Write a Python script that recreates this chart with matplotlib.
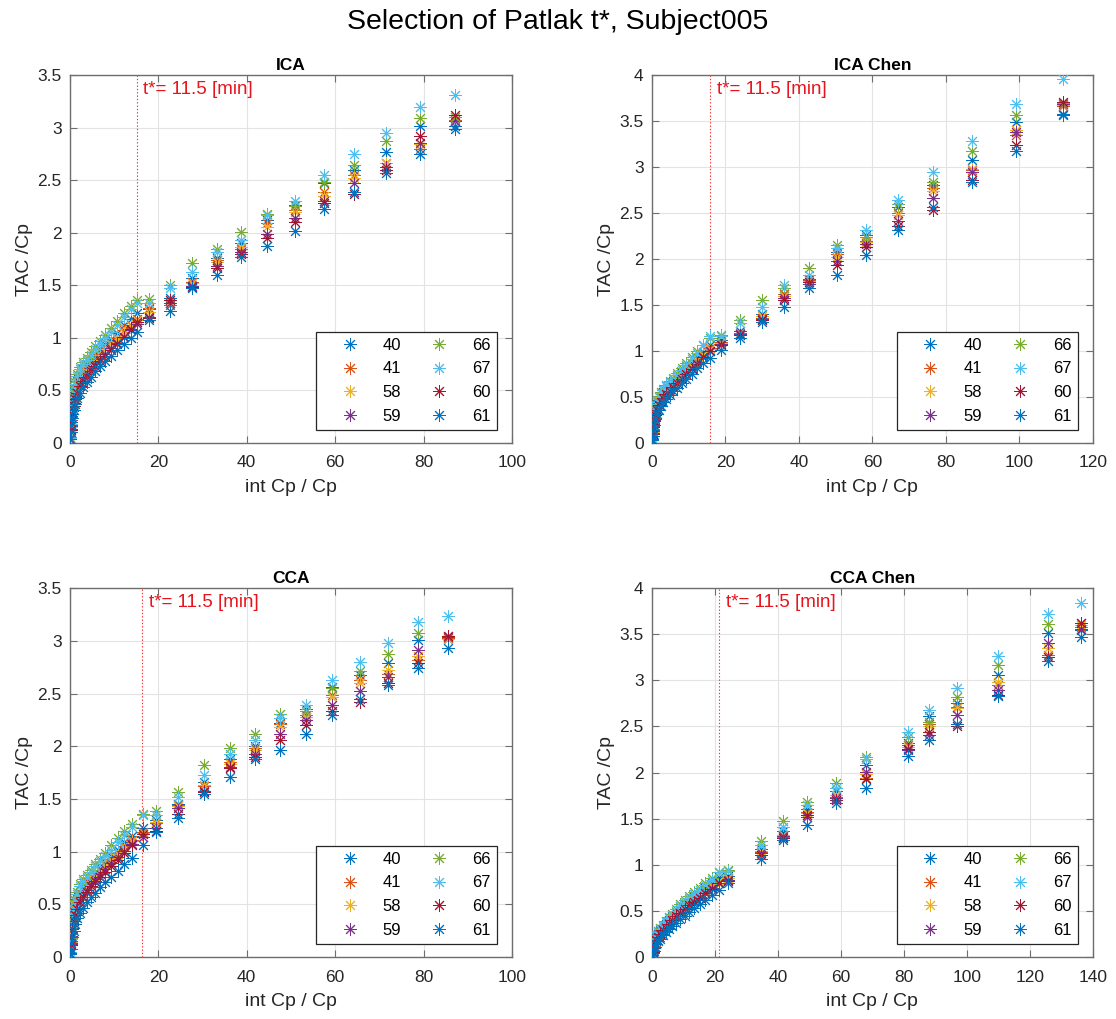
import numpy as np
import matplotlib
matplotlib.use("Agg")
from matplotlib import pyplot as plt

plt.rcParams['font.family'] = ['Liberation Sans', 'DejaVu Sans']

### series labels and MATLAB colour order ###
labels = ['40', '41', '58', '59', '66', '67', '60', '61']
colors = ['#0072BD', '#D95319', '#EDB120', '#7E2F8E', '#77AC30', '#4DBEEE', '#A2142F', '#0072BD']

### ICA ###
ica_x = [0.05, 0.15, 0.3, 0.5, 0.8, 1.2, 1.7, 2.3, 3.0, 3.8, 4.7, 5.7, 6.8, 8.0, 9.3, 10.7,
         12.2, 13.7, 15.1, 17.8, 22.6, 27.7, 33.2, 38.7, 44.6, 51.0, 57.5, 64.3, 71.6, 79.2, 87.1]
ica_y = [
    [0.05, 0.16, 0.26, 0.35, 0.44, 0.52, 0.59, 0.65, 0.70, 0.74, 0.79, 0.84, 0.89, 0.94, 0.99, 1.05,
     1.12, 1.18, 1.24, 1.27, 1.38, 1.57, 1.76, 1.90, 2.12, 2.26, 2.47, 2.60, 2.77, 3.02, 3.02],
    [0.05, 0.15, 0.25, 0.34, 0.42, 0.50, 0.56, 0.62, 0.67, 0.71, 0.76, 0.80, 0.85, 0.90, 0.95, 1.00,
     1.07, 1.12, 1.18, 1.28, 1.31, 1.53, 1.74, 1.85, 2.09, 2.22, 2.39, 2.55, 2.66, 2.80, 3.07],
    [0.05, 0.15, 0.24, 0.33, 0.41, 0.49, 0.55, 0.61, 0.66, 0.70, 0.75, 0.79, 0.84, 0.89, 0.94, 0.99,
     1.05, 1.11, 1.17, 1.25, 1.33, 1.52, 1.72, 1.86, 2.05, 2.20, 2.35, 2.52, 2.66, 2.84, 3.06],
    [0.04, 0.13, 0.22, 0.30, 0.38, 0.45, 0.51, 0.57, 0.62, 0.66, 0.71, 0.75, 0.80, 0.85, 0.90, 0.95,
     1.01, 1.07, 1.13, 1.20, 1.33, 1.49, 1.68, 1.82, 1.99, 2.14, 2.30, 2.47, 2.63, 2.85, 3.06],
    [0.06, 0.20, 0.30, 0.40, 0.50, 0.58, 0.66, 0.72, 0.77, 0.81, 0.87, 0.92, 0.97, 1.03, 1.09, 1.16,
     1.24, 1.30, 1.36, 1.37, 1.50, 1.71, 1.85, 2.01, 2.18, 2.25, 2.48, 2.64, 2.87, 3.09, 3.10],
    [0.05, 0.18, 0.28, 0.38, 0.48, 0.56, 0.64, 0.70, 0.75, 0.79, 0.84, 0.89, 0.94, 1.00, 1.06, 1.12,
     1.20, 1.27, 1.33, 1.33, 1.47, 1.63, 1.82, 1.93, 2.17, 2.30, 2.55, 2.75, 2.95, 3.20, 3.31],
    [0.04, 0.12, 0.20, 0.28, 0.35, 0.42, 0.48, 0.54, 0.59, 0.63, 0.68, 0.73, 0.78, 0.83, 0.88, 0.94,
     1.01, 1.08, 1.15, 1.19, 1.36, 1.48, 1.66, 1.80, 1.95, 2.10, 2.28, 2.37, 2.60, 2.92, 3.12],
    [0.04, 0.10, 0.17, 0.24, 0.31, 0.37, 0.43, 0.48, 0.53, 0.58, 0.63, 0.68, 0.73, 0.78, 0.83, 0.88,
     0.94, 1.00, 1.06, 1.17, 1.26, 1.47, 1.60, 1.77, 1.87, 2.02, 2.23, 2.39, 2.57, 2.75, 2.99],
]
ica_tstar = 15.1

### ICA Chen ###
icachen_x = [0.05, 0.15, 0.3, 0.55, 0.9, 1.3, 1.8, 2.4, 3.1, 3.9, 4.8, 5.8, 6.9, 8.1, 9.4, 10.8,
             12.3, 14.0, 15.8, 18.7, 23.9, 29.9, 36.0, 42.7, 50.4, 58.4, 67.0, 76.6, 87.0, 99.2, 111.9]
icachen_y = [
    [0.04, 0.13, 0.21, 0.29, 0.36, 0.42, 0.47, 0.51, 0.55, 0.59, 0.63, 0.67, 0.71, 0.76, 0.81, 0.87,
     0.93, 0.99, 1.06, 1.12, 1.22, 1.40, 1.62, 1.78, 2.08, 2.26, 2.57, 2.80, 3.08, 3.49, 3.58],
    [0.04, 0.12, 0.20, 0.28, 0.35, 0.41, 0.46, 0.50, 0.54, 0.58, 0.62, 0.66, 0.70, 0.75, 0.80, 0.85,
     0.91, 0.97, 1.03, 1.10, 1.20, 1.36, 1.62, 1.77, 2.06, 2.20, 2.50, 2.77, 2.97, 3.35, 3.66],
    [0.04, 0.12, 0.20, 0.27, 0.34, 0.40, 0.45, 0.49, 0.53, 0.57, 0.61, 0.65, 0.69, 0.74, 0.79, 0.84,
     0.90, 0.96, 1.02, 1.09, 1.19, 1.38, 1.60, 1.76, 2.02, 2.18, 2.48, 2.74, 2.98, 3.40, 3.67],
    [0.04, 0.11, 0.18, 0.25, 0.32, 0.38, 0.43, 0.47, 0.51, 0.55, 0.59, 0.63, 0.67, 0.72, 0.77, 0.82,
     0.88, 0.94, 1.00, 1.08, 1.18, 1.35, 1.58, 1.73, 1.98, 2.16, 2.41, 2.66, 2.95, 3.38, 3.69],
    [0.05, 0.15, 0.24, 0.33, 0.40, 0.46, 0.51, 0.55, 0.59, 0.63, 0.67, 0.71, 0.76, 0.81, 0.87, 0.93,
     1.00, 1.07, 1.14, 1.17, 1.34, 1.55, 1.68, 1.90, 2.15, 2.24, 2.60, 2.84, 3.18, 3.57, 3.70],
    [0.05, 0.14, 0.23, 0.32, 0.39, 0.45, 0.50, 0.54, 0.58, 0.62, 0.66, 0.70, 0.74, 0.79, 0.85, 0.91,
     0.98, 1.06, 1.16, 1.16, 1.30, 1.48, 1.72, 1.83, 2.12, 2.32, 2.64, 2.95, 3.28, 3.69, 3.96],
    [0.03, 0.10, 0.17, 0.24, 0.30, 0.36, 0.41, 0.45, 0.49, 0.53, 0.57, 0.61, 0.65, 0.70, 0.75, 0.80,
     0.86, 0.93, 1.00, 1.06, 1.17, 1.34, 1.55, 1.75, 1.93, 2.13, 2.36, 2.53, 2.86, 3.24, 3.71],
    [0.03, 0.08, 0.14, 0.20, 0.26, 0.31, 0.36, 0.40, 0.44, 0.48, 0.52, 0.56, 0.60, 0.65, 0.70, 0.75,
     0.81, 0.87, 0.92, 1.01, 1.14, 1.32, 1.48, 1.68, 1.83, 2.04, 2.32, 2.57, 2.84, 3.18, 3.57],
]
icachen_tstar = 15.8

### CCA ###
cca_x = [0.05, 0.15, 0.3, 0.5, 0.8, 1.2, 1.7, 2.3, 3.0, 3.8, 4.7, 5.7, 6.8, 8.0, 9.3, 10.8,
         12.3, 14.0, 16.6, 19.5, 24.5, 30.3, 36.2, 41.9, 47.5, 53.4, 59.4, 65.6, 72.0, 78.7, 85.6]
cca_y = [
    [0.04, 0.15, 0.24, 0.33, 0.41, 0.48, 0.55, 0.61, 0.66, 0.70, 0.75, 0.80, 0.85, 0.90, 0.96, 1.02,
     1.09, 1.15, 1.22, 1.30, 1.45, 1.66, 1.88, 2.00, 2.22, 2.35, 2.56, 2.68, 2.79, 3.01, 3.02],
    [0.04, 0.14, 0.23, 0.32, 0.40, 0.47, 0.53, 0.59, 0.64, 0.68, 0.73, 0.78, 0.83, 0.88, 0.93, 0.99,
     1.05, 1.11, 1.19, 1.27, 1.44, 1.62, 1.85, 1.98, 2.21, 2.30, 2.49, 2.63, 2.69, 2.82, 3.03],
    [0.04, 0.14, 0.22, 0.31, 0.39, 0.46, 0.52, 0.58, 0.63, 0.67, 0.72, 0.77, 0.82, 0.87, 0.92, 0.98,
     1.04, 1.10, 1.18, 1.28, 1.43, 1.63, 1.83, 1.96, 2.18, 2.28, 2.47, 2.60, 2.72, 2.86, 3.02],
    [0.04, 0.12, 0.20, 0.28, 0.36, 0.43, 0.49, 0.55, 0.60, 0.64, 0.69, 0.74, 0.79, 0.84, 0.89, 0.95,
     1.01, 1.07, 1.14, 1.22, 1.41, 1.58, 1.80, 1.93, 2.12, 2.25, 2.39, 2.52, 2.66, 2.91, 3.04],
    [0.05, 0.18, 0.28, 0.37, 0.46, 0.54, 0.62, 0.69, 0.74, 0.78, 0.83, 0.88, 0.93, 0.99, 1.06, 1.13,
     1.20, 1.26, 1.36, 1.39, 1.57, 1.82, 1.98, 2.12, 2.31, 2.33, 2.55, 2.71, 2.88, 3.07, 3.05],
    [0.05, 0.17, 0.27, 0.36, 0.45, 0.53, 0.60, 0.67, 0.72, 0.76, 0.81, 0.86, 0.91, 0.96, 1.02, 1.09,
     1.16, 1.23, 1.35, 1.35, 1.52, 1.73, 1.93, 2.06, 2.27, 2.39, 2.63, 2.80, 2.98, 3.18, 3.24],
    [0.03, 0.11, 0.19, 0.27, 0.34, 0.40, 0.46, 0.52, 0.57, 0.62, 0.67, 0.72, 0.76, 0.81, 0.86, 0.92,
     0.99, 1.06, 1.17, 1.20, 1.36, 1.57, 1.79, 1.90, 2.06, 2.20, 2.33, 2.42, 2.60, 2.79, 3.05],
    [0.03, 0.08, 0.13, 0.19, 0.25, 0.31, 0.37, 0.42, 0.47, 0.52, 0.57, 0.61, 0.66, 0.71, 0.76, 0.82,
     0.88, 0.94, 1.06, 1.19, 1.32, 1.55, 1.71, 1.88, 1.96, 2.12, 2.30, 2.45, 2.58, 2.74, 2.93],
]
cca_tstar = 16.4

### CCA Chen ###
ccachen_x = [0.05, 0.2, 0.5, 0.9, 1.4, 2.0, 2.7, 3.5, 4.4, 5.4, 6.5, 7.7, 9.0, 10.4, 11.9, 13.5,
             15.2, 17.0, 19.0, 21.4, 24.2, 34.5, 41.5, 49.1, 58.4, 67.9, 81.4, 88.0, 97.0, 110.0,
             125.8, 136.1]
ccachen_y = [
    [0.03, 0.07, 0.12, 0.17, 0.21, 0.25, 0.29, 0.32, 0.36, 0.40, 0.44, 0.48, 0.52, 0.57, 0.61, 0.65,
     0.70, 0.75, 0.80, 0.87, 0.88, 1.17, 1.37, 1.60, 1.80, 2.08, 2.32, 2.61, 2.76, 3.06, 3.51, 3.55],
    [0.03, 0.07, 0.12, 0.16, 0.20, 0.24, 0.28, 0.31, 0.35, 0.39, 0.43, 0.47, 0.51, 0.55, 0.59, 0.63,
     0.68, 0.73, 0.78, 0.83, 0.86, 1.14, 1.30, 1.57, 1.74, 1.94, 2.30, 2.53, 2.71, 2.95, 3.27, 3.58],
    [0.03, 0.07, 0.11, 0.16, 0.20, 0.24, 0.27, 0.31, 0.35, 0.38, 0.42, 0.46, 0.50, 0.54, 0.58, 0.62,
     0.67, 0.72, 0.77, 0.82, 0.86, 1.15, 1.32, 1.56, 1.76, 1.98, 2.28, 2.50, 2.70, 2.98, 3.35, 3.60],
    [0.02, 0.06, 0.10, 0.15, 0.19, 0.23, 0.26, 0.30, 0.33, 0.37, 0.41, 0.45, 0.49, 0.53, 0.57, 0.61,
     0.65, 0.70, 0.75, 0.80, 0.84, 1.13, 1.31, 1.52, 1.72, 2.01, 2.25, 2.41, 2.62, 2.90, 3.40, 3.56],
    [0.03, 0.08, 0.14, 0.19, 0.24, 0.28, 0.31, 0.35, 0.39, 0.43, 0.47, 0.52, 0.57, 0.62, 0.66, 0.70,
     0.75, 0.80, 0.86, 0.92, 0.94, 1.26, 1.48, 1.68, 1.89, 2.17, 2.39, 2.55, 2.82, 3.17, 3.61, 3.62],
    [0.03, 0.08, 0.13, 0.18, 0.23, 0.27, 0.30, 0.34, 0.38, 0.42, 0.46, 0.50, 0.55, 0.60, 0.64, 0.68,
     0.73, 0.78, 0.84, 0.92, 0.93, 1.22, 1.41, 1.65, 1.83, 2.15, 2.44, 2.68, 2.92, 3.26, 3.72, 3.84],
    [0.02, 0.06, 0.10, 0.14, 0.18, 0.22, 0.25, 0.29, 0.32, 0.36, 0.40, 0.44, 0.48, 0.52, 0.56, 0.60,
     0.64, 0.69, 0.74, 0.80, 0.82, 1.11, 1.29, 1.54, 1.70, 1.93, 2.26, 2.44, 2.51, 2.84, 3.25, 3.62],
    [0.02, 0.04, 0.07, 0.11, 0.14, 0.17, 0.20, 0.24, 0.27, 0.30, 0.34, 0.37, 0.41, 0.45, 0.49, 0.53,
     0.57, 0.62, 0.67, 0.73, 0.80, 1.06, 1.27, 1.43, 1.67, 1.83, 2.18, 2.35, 2.53, 2.83, 3.21, 3.47],
]
ccachen_tstar = 21.4

tstar_text = 't*= 11.5 [min]'

panels = [
    # title, x, y, t* position, xlim, xticks, ylim, yticks, axes rect
    ('ICA', ica_x, ica_y, ica_tstar, 100, np.arange(0, 101, 20), 3.5, np.arange(0, 3.51, 0.5),
     [0.0627, 0.5653, 0.396, 0.361]),
    ('ICA Chen', icachen_x, icachen_y, icachen_tstar, 120, np.arange(0, 121, 20), 4, np.arange(0, 4.01, 0.5),
     [0.5842, 0.5653, 0.395, 0.361]),
    ('CCA', cca_x, cca_y, cca_tstar, 100, np.arange(0, 101, 20), 3.5, np.arange(0, 3.51, 0.5),
     [0.0627, 0.0608, 0.396, 0.362]),
    ('CCA Chen', ccachen_x, ccachen_y, ccachen_tstar, 140, np.arange(0, 141, 20), 4, np.arange(0, 4.01, 0.5),
     [0.5842, 0.0608, 0.395, 0.362]),
]

fig = plt.figure(figsize=(11.16, 10.19), dpi=100)
fig.text(0.5, 1 - 22 / 1019, 'Selection of Patlak t*, Subject005', ha='center', va='center',
         fontsize=20.5, color='black')

edge = '#6e6e6e'
txt = '#262626'

for title, x, ys, ts, xmax, xt, ymax, yt, rect in panels:
    ax = fig.add_axes(rect)
    for lab, col, y in zip(labels, colors, ys):
        ax.plot(x, y, linestyle='none', marker=(8, 2, 0), markersize=9, markeredgewidth=0.7,
                color=col, label=lab, zorder=3)
    ax.axvline(ts, color='#ff2a2a', linestyle=(0, (1.2, 1.8)), linewidth=0.8, zorder=2)
    ax.text(ts + 1.5 * xmax / 100, ymax * 0.96, tstar_text, color='#e8141c', fontsize=13.5,
            ha='left', va='center')

    ax.set_xlim(0, xmax)
    ax.set_ylim(0, ymax)
    ax.set_xticks(xt)
    ax.set_yticks(yt)
    ax.set_xticklabels([f'{v:g}' for v in xt])
    ax.set_yticklabels([f'{v:g}' for v in yt])
    ax.grid(True, color='#e3e3e3', linewidth=0.8, zorder=0)
    ax.set_axisbelow(True)
    for sp in ax.spines.values():
        sp.set_color(edge)
        sp.set_linewidth(1.0)
    ax.tick_params(direction='in', top=True, right=True, length=5, width=0.8, color=edge,
                   labelcolor=txt, labelsize=12.5)
    ax.tick_params(axis='x', pad=9)
    ax.tick_params(axis='y', pad=6)
    ax.set_xlabel('int Cp / Cp', fontsize=14, color=txt, labelpad=6)
    ax.set_ylabel('TAC /Cp', fontsize=14, color=txt, labelpad=3)
    ax.set_title(title, fontsize=12.5, fontweight='bold', color='black', pad=4)

    leg = ax.legend(ncol=2, loc='lower right', bbox_to_anchor=(0.966, 0.036), borderaxespad=0,
                    fontsize=12, handlelength=3.35, handletextpad=0.3, columnspacing=0.63,
                    labelspacing=0.52, borderpad=0.36, fancybox=False, framealpha=1,
                    edgecolor='#262626')
    leg.get_frame().set_linewidth(0.9)

fig.savefig('out.png', dpi=100)
